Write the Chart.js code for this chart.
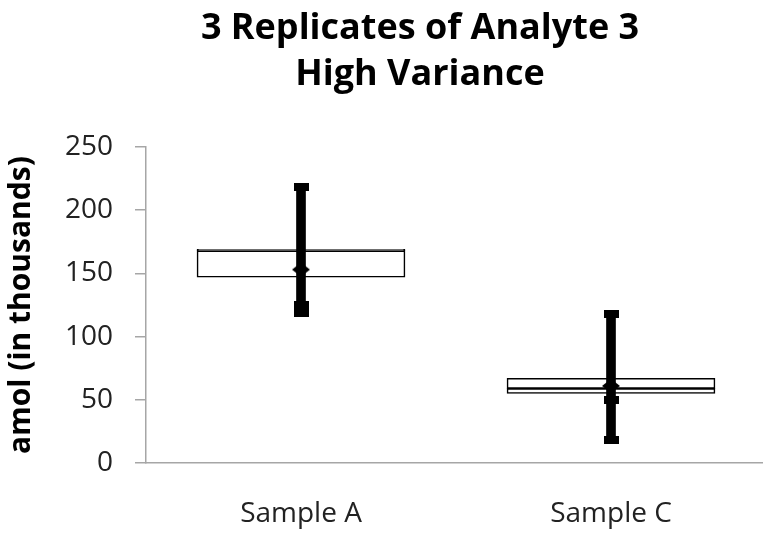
<!DOCTYPE html>
<html><head><meta charset="utf-8">
<script src="https://cdn.jsdelivr.net/npm/chart.js@4"></script>
<style>html,body{margin:0;padding:0;overflow:hidden;background:#fff}</style>
</head><body>
<canvas id="c" width="776" height="533" style="display:block"></canvas>
<script>
const categories = ['Sample A', 'Sample C'];
const boxQ1 = [147, 55];
const boxMedian = [168, 59];
const boxQ3 = [169, 67];
const replicate1 = [119, 18];
const replicate2 = [125, 50];
const replicate3 = [218, 118];
const means = [153, 61];
const yTicks = [0, 50, 100, 150, 200, 250];
const titleLines = ['3 Replicates of Analyte 3', 'High Variance'];
const yTitle = 'amol (in thousands)';

const FONT = '"Open Sans", Lato, sans-serif';

const capImg = document.createElement('canvas');
capImg.width = 15; capImg.height = 8;
{ const g = capImg.getContext('2d'); g.fillStyle = '#000'; g.fillRect(0, 0, 15, 8); }

const diamondImg = document.createElement('canvas');
diamondImg.width = 18; diamondImg.height = 14;
{ const g = diamondImg.getContext('2d'); g.fillStyle = '#000'; g.beginPath();
  g.moveTo(9, 0); g.lineTo(18, 7); g.lineTo(9, 14); g.lineTo(0, 7); g.closePath(); g.fill(); }

const whisker = categories.map((_, i) => {
  const v = [replicate1[i], replicate2[i], replicate3[i]];
  return [Math.min(...v), Math.max(...v)];
});

const titlePlugin = {
  id: 'twoLineTitle',
  afterDraw(chart) {
    const ctx = chart.ctx;
    ctx.save();
    ctx.fillStyle = '#000';
    ctx.font = 'bold 36px ' + FONT;
    ctx.textAlign = 'center';
    ctx.textBaseline = 'alphabetic';
    ctx.fillText(titleLines[0], 420, 39);
    ctx.fillText(titleLines[1], 420, 85);
    ctx.restore();
  }
};

const pointDs = (data) => ({
  type: 'line', data, showLine: false, pointStyle: capImg,
  pointRadius: 8, pointHoverRadius: 8, order: 1
});

new Chart(document.getElementById('c'), {
  type: 'bar',
  data: {
    labels: categories,
    datasets: [
      { data: categories.map((_, i) => [boxQ1[i], boxMedian[i]]), backgroundColor: '#fff', borderColor: '#000', borderWidth: 1.6, barThickness: 208, grouped: false, order: 10, borderSkipped: false },
      { data: categories.map((_, i) => [boxMedian[i], boxQ3[i]]), backgroundColor: '#fff', borderColor: '#000', borderWidth: 1.6, barThickness: 208, grouped: false, order: 9, borderSkipped: false },
      { data: whisker, backgroundColor: '#000', borderWidth: 0, barThickness: 9, grouped: false, order: 5 },
      pointDs(replicate1), pointDs(replicate2), pointDs(replicate3),
      { type: 'line', data: means, showLine: false, pointStyle: diamondImg, pointRadius: 9, order: 0 }
    ]
  },
  options: {
    responsive: false,
    animation: false,
    events: [],
    layout: { padding: { top: 147, right: 0, left: 0, bottom: 0 } },
    plugins: { legend: { display: false }, tooltip: { enabled: false }, title: { display: false } },
    scales: {
      x: {
        grid: { display: false, drawTicks: false },
        border: { display: true, color: '#a6a6a6', width: 1.5 },
        ticks: { padding: 34, color: '#222', font: { family: FONT, size: 28 } },
        afterFit(s) { s.height = 70; }
      },
      y: {
        min: 0, max: 250,
        afterBuildTicks(s) { s.ticks = yTicks.map(v => ({ value: v })); },
        grid: { drawOnChartArea: false, drawTicks: true, tickLength: 11, color: '#a6a6a6', lineWidth: 1.5 },
        border: { display: true, color: '#a6a6a6', width: 1.5 },
        ticks: { padding: 22, color: '#222', font: { family: FONT, size: 28 } },
        title: { display: true, text: yTitle, color: '#000', font: { family: FONT, size: 30, weight: 'bold' }, padding: { top: 3, bottom: 0 } },
        afterFit(s) { s.width = 146; }
      }
    }
  },
  plugins: [titlePlugin]
});
</script>
</body></html>
